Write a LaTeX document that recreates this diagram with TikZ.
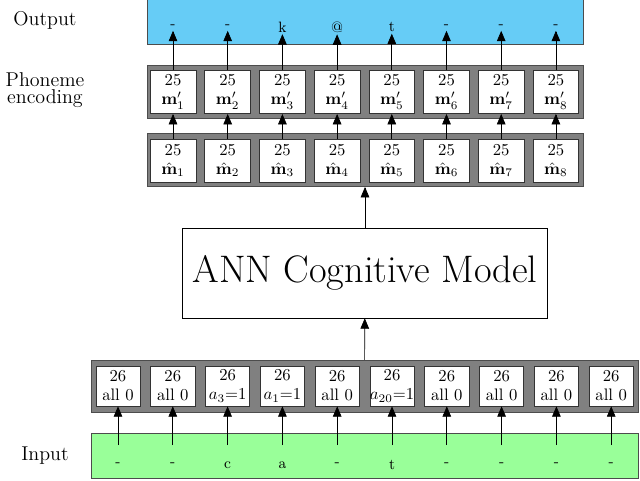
\documentclass[tikz,border=0pt]{standalone}
\usepackage{amsmath}
\usepackage{amssymb}
\usepackage{xcolor}
\usepackage{tikz}
\usetikzlibrary{arrows, positioning}

\definecolor{outblue}{RGB}{102,204,246}
\definecolor{ingreen}{RGB}{153,255,153}
\definecolor{rowgray}{RGB}{128,128,128}

\begin{document}
\begin{tikzpicture}[x=0.6pt, y=-0.6pt,
    layer/.style={rectangle, draw=black!70, fill=rowgray, inner sep=0pt},
    unit/.style={rectangle, draw=black!80, fill=white, inner sep=0pt, minimum width=27.5pt, minimum height=26pt, align=center, font=\normalsize\linespread{0.95}\selectfont},
    band/.style={rectangle, draw=black!70, inner sep=0pt},
    model/.style={rectangle, draw, fill=white, minimum width=219pt, minimum height=54pt, font=\fontsize{23}{26}\selectfont},
    side/.style={font=\large, align=center},
    arrow/.style={->,>=triangle 45}]
    \useasboundingbox (0,0) rectangle (640,480);

    % bands and rows
    \node [band, fill=outblue, minimum width=261.6pt, minimum height=27pt] (output) at (365,22) {};
    \node [layer, minimum width=261.6pt, minimum height=32pt] (enc) at (365,91.5) {};
    \node [layer, minimum width=261.6pt, minimum height=32pt] (hat) at (365,160) {};
    \node [model] (ann) at (365,273) {ANN Cognitive Model};
    \node [layer, minimum width=328pt, minimum height=31pt] (inrow) at (364.5,386) {};
    \node [band, fill=ingreen, minimum width=328pt, minimum height=27pt] (input) at (364.5,455.5) {};

    \node [side] at (45,20) {Output};
    \node [side] at (45,90) {Phoneme\\[-4pt]encoding};
    \node [side] at (45,456) {Input};

    % phoneme units
    \foreach \i/\ph in {1/-,2/-,3/k,4/@,5/t,6/-,7/-,8/-} {
        \pgfmathsetmacro{\xx}{173+54.7*(\i-1)}
        \node [unit] (m\i) at (\xx,92) {25\\$\mathbf{m}'_{\i}$};
        \node [unit] (h\i) at (\xx,160.5) {25\\$\hat{\mathbf{m}}_{\i}$};
        \node [inner sep=1pt, font=\small] (p\i) at (\xx,27) {\ph};
        \draw [arrow] (m\i) -- (p\i);
        \draw [arrow] (h\i) -- (m\i);
    }
    \draw [arrow] (ann) -- (hat);
    \draw [arrow] (inrow) -- (ann);

    % letter units
    \foreach \i/\lt/\val in {1/-/all 0,2/-/all 0,3/c/$a_3${=}1,4/a/$a_1${=}1,5/-/all 0,6/t/$a_{20}${=}1,7/-/all 0,8/-/all 0,9/-/all 0,10/-/all 0} {
        \pgfmathsetmacro{\xx}{118+54.8*(\i-1)}
        \node [unit, minimum width=26.5pt, minimum height=24pt] (a\i) at (\xx,386) {26\\\val};
        \node [font=\small] (l\i) at (\xx,465) {\lt};
        \coordinate (s\i) at (\xx,445);
        \draw [arrow] (s\i) -- (a\i);
    }
\end{tikzpicture}
\end{document}
